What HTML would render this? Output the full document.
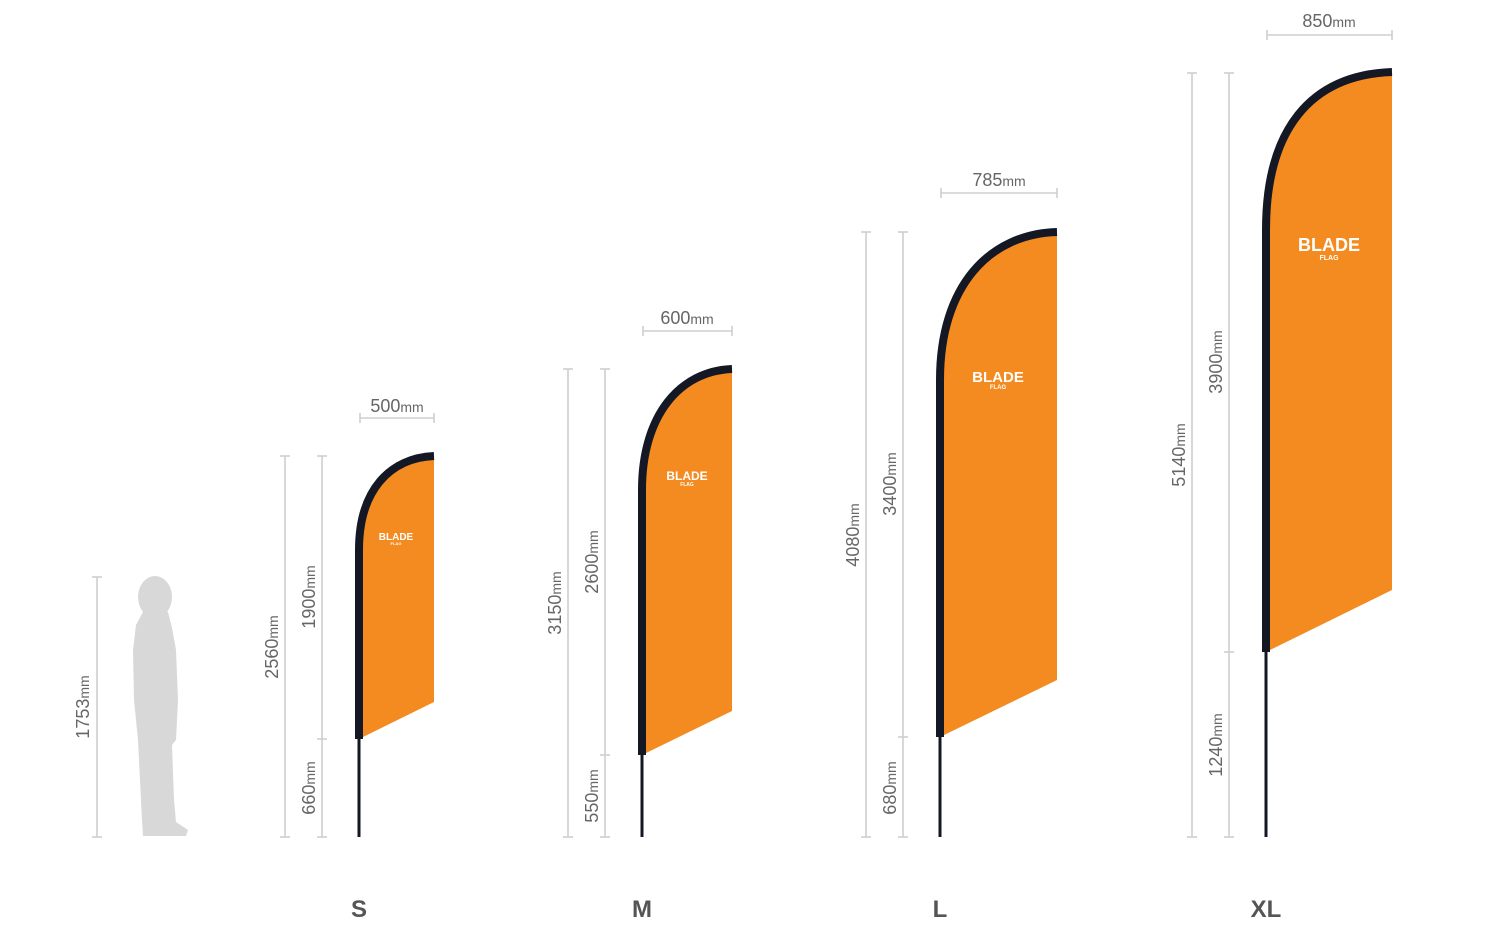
<!DOCTYPE html>
<html><head><meta charset="utf-8"><style>
html,body{margin:0;padding:0;background:#fff}
svg text{font-family:"Liberation Sans",sans-serif;fill:#666}
</style></head><body>
<svg width="1500" height="930" viewBox="0 0 1500 930" xmlns="http://www.w3.org/2000/svg">
<g stroke="#cfcfcf" stroke-width="1.6" fill="none">
<!-- human -->
<line x1="97" y1="577" x2="97" y2="837"/><line x1="92" y1="577" x2="102" y2="577"/><line x1="92" y1="837" x2="102" y2="837"/>
<!-- S -->
<line x1="285" y1="456" x2="285" y2="837"/><line x1="280" y1="456" x2="290" y2="456"/><line x1="280" y1="837" x2="290" y2="837"/>
<line x1="322" y1="456" x2="322" y2="837"/><line x1="317" y1="456" x2="327" y2="456"/><line x1="317" y1="739" x2="327" y2="739"/><line x1="317" y1="837" x2="327" y2="837"/>
<line x1="360" y1="418" x2="434" y2="418"/><line x1="360" y1="413" x2="360" y2="423"/><line x1="434" y1="413" x2="434" y2="423"/>
<!-- M -->
<line x1="568" y1="369" x2="568" y2="837"/><line x1="563" y1="369" x2="573" y2="369"/><line x1="563" y1="837" x2="573" y2="837"/>
<line x1="605" y1="369" x2="605" y2="837"/><line x1="600" y1="369" x2="610" y2="369"/><line x1="600" y1="755" x2="610" y2="755"/><line x1="600" y1="837" x2="610" y2="837"/>
<line x1="643" y1="331" x2="732" y2="331"/><line x1="643" y1="326" x2="643" y2="336"/><line x1="732" y1="326" x2="732" y2="336"/>
<!-- L -->
<line x1="866" y1="232" x2="866" y2="837"/><line x1="861" y1="232" x2="871" y2="232"/><line x1="861" y1="837" x2="871" y2="837"/>
<line x1="903" y1="232" x2="903" y2="837"/><line x1="898" y1="232" x2="908" y2="232"/><line x1="898" y1="737" x2="908" y2="737"/><line x1="898" y1="837" x2="908" y2="837"/>
<line x1="941" y1="193" x2="1057" y2="193"/><line x1="941" y1="188" x2="941" y2="198"/><line x1="1057" y1="188" x2="1057" y2="198"/>
<!-- XL -->
<line x1="1192" y1="73" x2="1192" y2="837"/><line x1="1187" y1="73" x2="1197" y2="73"/><line x1="1187" y1="837" x2="1197" y2="837"/>
<line x1="1229" y1="73" x2="1229" y2="837"/><line x1="1224" y1="73" x2="1234" y2="73"/><line x1="1224" y1="652" x2="1234" y2="652"/><line x1="1224" y1="837" x2="1234" y2="837"/>
<line x1="1267" y1="35" x2="1392" y2="35"/><line x1="1267" y1="30" x2="1267" y2="40"/><line x1="1392" y1="30" x2="1392" y2="40"/>
</g>
<!-- human silhouette -->
<g fill="#d8d8d8">
<ellipse cx="155" cy="597" rx="17" ry="21"/>
<path d="M143,612 L168,612 L172,628 L176,650 L178,700 L176,740 L172,745 L174,800 L176,822 L188,830 L186,836 L143,836 L142,820 L140,780 L138,740 L134,700 L133,650 L136,625 Z"/>
</g>
<!-- flags -->
<g stroke="#141824" stroke-width="3" fill="none">
<line x1="359" y1="739" x2="359" y2="837"/>
<line x1="642" y1="755" x2="642" y2="837"/>
<line x1="940" y1="737" x2="940" y2="837"/>
<line x1="1266" y1="652" x2="1266" y2="837"/>
</g>
<g fill="#f48b20">
<path d="M359,739 L359,550 C359,490 390,458 434,456 L434,702 Z"/>
<path d="M642,755 L642,490 C642,415 680,371 732,369 L732,711 Z"/>
<path d="M940,737 L940,380 C940,285 990,234 1057,232 L1057,680 Z"/>
<path d="M1266,652 L1266,230 C1266,130 1310,75 1392,72 L1392,590 Z"/>
</g>
<g stroke="#141824" stroke-width="8" fill="none">
<path d="M359,739 L359,550 C359,490 390,458 434,456"/>
<path d="M642,755 L642,490 C642,415 680,371 732,369"/>
<path d="M940,737 L940,380 C940,285 990,234 1057,232"/>
<path d="M1266,652 L1266,230 C1266,130 1310,75 1392,72"/>
</g>
<!-- logos -->
<g font-weight="bold" text-anchor="middle">
<text x="396" y="540" font-size="10" style="fill:#fff">BLADE</text>
<text x="396" y="545" font-size="4" style="fill:#fff">FLAG</text>
<text x="687" y="480" font-size="12" style="fill:#fff">BLADE</text>
<text x="687" y="486" font-size="5" style="fill:#fff">FLAG</text>
<text x="998" y="382" font-size="15" style="fill:#fff">BLADE</text>
<text x="998" y="389" font-size="6" style="fill:#fff">FLAG</text>
<text x="1329" y="251" font-size="18" style="fill:#fff">BLADE</text>
<text x="1329" y="260" font-size="7" style="fill:#fff">FLAG</text>
</g>
<!-- horizontal labels -->
<g font-size="18" text-anchor="middle">
<text x="397" y="412">500<tspan font-size="14">mm</tspan></text>
<text x="687" y="324">600<tspan font-size="14">mm</tspan></text>
<text x="999" y="186">785<tspan font-size="14">mm</tspan></text>
<text x="1329" y="27">850<tspan font-size="14">mm</tspan></text>
</g>
<!-- vertical labels -->
<g font-size="18" text-anchor="middle">
<text transform="translate(89,707) rotate(-90)">1753<tspan font-size="14">mm</tspan></text>
<text transform="translate(278,647) rotate(-90)">2560<tspan font-size="14">mm</tspan></text>
<text transform="translate(315,597) rotate(-90)">1900<tspan font-size="14">mm</tspan></text>
<text transform="translate(315,788) rotate(-90)">660<tspan font-size="14">mm</tspan></text>
<text transform="translate(561,603) rotate(-90)">3150<tspan font-size="14">mm</tspan></text>
<text transform="translate(598,562) rotate(-90)">2600<tspan font-size="14">mm</tspan></text>
<text transform="translate(598,796) rotate(-90)">550<tspan font-size="14">mm</tspan></text>
<text transform="translate(859,535) rotate(-90)">4080<tspan font-size="14">mm</tspan></text>
<text transform="translate(896,484) rotate(-90)">3400<tspan font-size="14">mm</tspan></text>
<text transform="translate(896,788) rotate(-90)">680<tspan font-size="14">mm</tspan></text>
<text transform="translate(1185,455) rotate(-90)">5140<tspan font-size="14">mm</tspan></text>
<text transform="translate(1222,362) rotate(-90)">3900<tspan font-size="14">mm</tspan></text>
<text transform="translate(1222,745) rotate(-90)">1240<tspan font-size="14">mm</tspan></text>
</g>
<!-- size labels -->
<g font-size="24" font-weight="bold" text-anchor="middle" style="fill:#555">
<text x="359" y="917" style="fill:#555">S</text>
<text x="642" y="917" style="fill:#555">M</text>
<text x="940" y="917" style="fill:#555">L</text>
<text x="1266" y="917" style="fill:#555">XL</text>
</g>
</svg>
</body></html>
